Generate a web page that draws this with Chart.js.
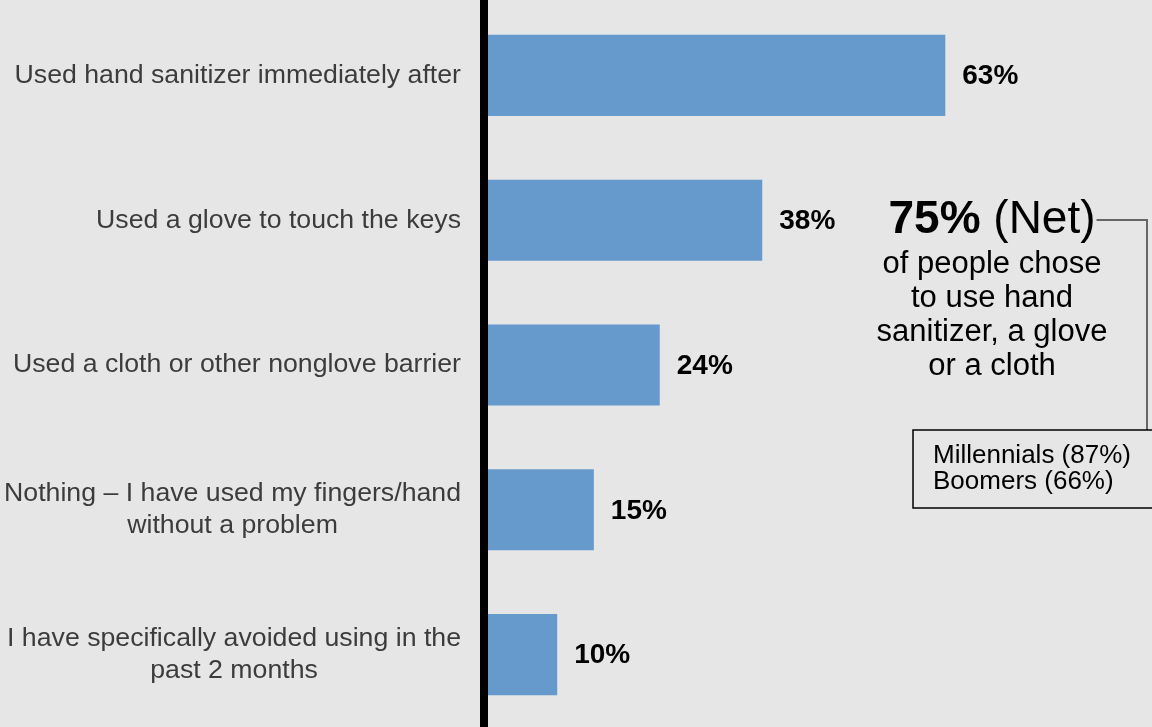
<!DOCTYPE html>
<html>
<head>
<meta charset="utf-8">
<script src="https://cdn.jsdelivr.net/npm/chart.js@4/dist/chart.umd.min.js"></script>
<style>
	html, body { margin: 0; padding: 0; background: #e6e6e6; }
	#wrap { width: 1152px; height: 727px; }
</style>
</head>
<body>
<div id="wrap"><canvas id="myChart" width="1152" height="727"></canvas></div>
<script>
const categories = [
	["Used hand sanitizer immediately after"],
	["Used a glove to touch the keys"],
	["Used a cloth or other nonglove barrier"],
	["Nothing – I have used my fingers/hand", "without a problem"],
	["I have specifically avoided using in the", "past 2 months"],
];
const shares = [63, 38, 24, 15, 10];

const netShare = 75;
const netLines = ["of people chose", "to use hand", "sanitizer, a glove", "or a cloth"];
const generations = ["Millennials (87%)", "Boomers (66%)"];

const FONT = "'Liberation Sans', Arial, sans-serif";
const ctx = document.getElementById("myChart");

// category labels: right aligned block, each line centered inside it
const categoryLabels = {
	id: "categoryLabels",
	afterDraw(chart) {
		const c = chart.ctx;
		const yScale = chart.scales.y;
		c.save();
		c.font = "26.7px " + FONT;
		c.fillStyle = "#3c3c3c";
		c.textAlign = "center";
		c.textBaseline = "middle";
		categories.forEach((lines, i) => {
			const y = yScale.getPixelForValue(i);
			const maxW = Math.max(...lines.map((l) => c.measureText(l).width));
			const cx = 461 - maxW / 2;
			lines.forEach((line, j) => {
				c.fillText(line, cx, y + (j - (lines.length - 1) / 2) * 32);
			});
		});
		c.restore();
	},
};

// percentage next to each bar
const valueLabels = {
	id: "valueLabels",
	afterDatasetsDraw(chart) {
		const c = chart.ctx;
		const meta = chart.getDatasetMeta(0);
		c.save();
		c.font = "bold 28px " + FONT;
		c.fillStyle = "#000";
		c.textAlign = "left";
		c.textBaseline = "middle";
		meta.data.forEach((bar, i) => {
			c.fillText(shares[i] + "%", bar.x + 17, bar.y + 1);
		});
		c.restore();
	},
};

// net callout with bracket and generation box
const netCallout = {
	id: "netCallout",
	afterDraw(chart) {
		const c = chart.ctx;
		const cx = 992;
		c.save();
		c.fillStyle = "#000";
		c.textBaseline = "alphabetic";

		const big = netShare + "%";
		const rest = " (Net)";
		c.font = "bold 46px " + FONT;
		const wBig = c.measureText(big).width;
		c.font = "46px " + FONT;
		const wRest = c.measureText(rest).width;
		const x0 = cx - (wBig + wRest) / 2;
		c.textAlign = "left";
		c.font = "bold 46px " + FONT;
		c.fillText(big, x0, 233);
		c.font = "46px " + FONT;
		c.fillText(rest, x0 + wBig, 233);

		c.textAlign = "center";
		c.font = "31px " + FONT;
		netLines.forEach((line, i) => c.fillText(line, cx, 273 + i * 34));

		// bracket
		c.strokeStyle = "#666";
		c.lineWidth = 2;
		c.beginPath();
		c.moveTo(x0 + wBig + wRest + 1, 220);
		c.lineTo(1147, 220);
		c.lineTo(1147, 430);
		c.stroke();

		// box
		c.strokeStyle = "#000";
		c.lineWidth = 1.5;
		c.strokeRect(913, 430, 260, 78);
		c.textAlign = "left";
		c.font = "26px " + FONT;
		generations.forEach((line, i) => c.fillText(line, 933, 463 + i * 26));
		c.restore();
	},
};

const myChart = new Chart(ctx, {
	type: "bar",
	data: {
		labels: categories,
		datasets: [
			{
				data: shares,
				backgroundColor: "#6699cc",
				borderWidth: 0,
				barPercentage: 0.56,
				categoryPercentage: 1,
			},
		],
	},
	options: {
		indexAxis: "y",
		responsive: false,
		animation: false,
		layout: { padding: { top: 3, right: 9, bottom: 0, left: 0 } },
		plugins: {
			legend: { display: false },
			tooltip: { enabled: false },
		},
		scales: {
			x: {
				display: false,
				min: 0,
				max: 90,
			},
			y: {
				position: "left",
				grid: { display: false },
				border: { display: true, color: "#000", width: 8, z: 1 },
				ticks: { display: false },
				afterFit(scale) {
					scale.width = 484;
				},
			},
		},
	},
	plugins: [categoryLabels, valueLabels, netCallout],
});
</script>
</body>
</html>
